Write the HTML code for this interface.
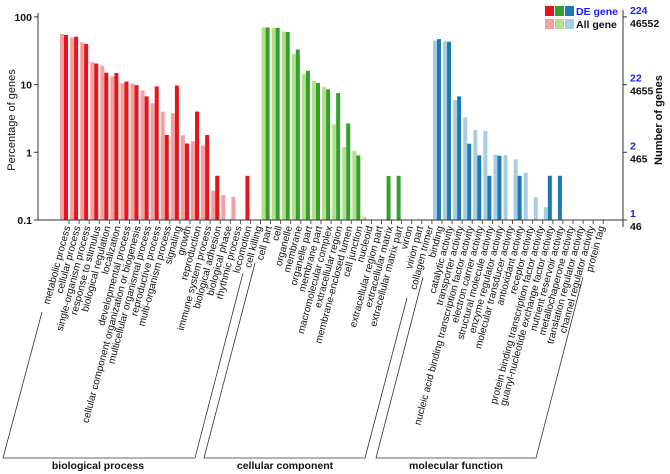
<!DOCTYPE html>
<html><head><meta charset="utf-8"><style>
html,body{margin:0;padding:0;background:#fff;}
svg{display:block;font-family:"Liberation Sans",Arial,sans-serif;}
</style></head><body>
<svg id="chart" width="670" height="474" viewBox="0 0 670 474">
<g id="bars"></g>
<g id="labels"></g>
<g id="axes">
 <line x1="38" y1="13" x2="38" y2="220" stroke="#333" stroke-width="1"/>
 <line x1="38" y1="220" x2="623" y2="220" stroke="#333" stroke-width="1"/>
 <line x1="623" y1="10" x2="623" y2="227" stroke="#333" stroke-width="1"/>
 <text x="15" y="120" transform="rotate(-90 15 120)" text-anchor="middle" font-size="11" fill="#111">Percentage of genes</text>
 <text x="662" y="120" transform="rotate(-90 662 120)" text-anchor="middle" font-size="11" font-weight="bold" fill="#111">Number of genes</text>
</g>
<g id="legend">
 <rect x="545" y="6" width="9" height="10" fill="#e8141c"/>
 <rect x="555" y="6" width="9" height="10" fill="#33a02c"/>
 <rect x="565" y="6" width="9" height="10" fill="#1f78b4"/>
 <rect x="545" y="19" width="9" height="10" fill="#f5a0a0"/>
 <rect x="555" y="19" width="9" height="10" fill="#b2df8a"/>
 <rect x="565" y="19" width="9" height="10" fill="#a6cee3"/>
 <text x="576" y="15" font-size="10.5" font-weight="bold" fill="#1a1aff">DE gene</text>
 <text x="576" y="28" font-size="10.5" font-weight="bold" fill="#111">All gene</text>
</g>
<g id="groups" stroke="#333" stroke-width="0.8" fill="none">
 <polyline points="42,312 3,458 195,458 243,273"/>
 <polyline points="255,263 204,458 365,458 407,298"/>
 <polyline points="423,277 376,458 536,458 583,277"/>
</g>
<text x="98" y="469" text-anchor="middle" font-size="10.5" font-weight="bold" fill="#111">biological process</text>
<text x="285" y="469" text-anchor="middle" font-size="10.5" font-weight="bold" fill="#111">cellular component</text>
<text x="456" y="469" text-anchor="middle" font-size="10.5" font-weight="bold" fill="#111">molecular function</text>
</svg>
<script>
const categories = ["metabolic process","cellular process","single-organism process","response to stimulus","biological regulation","localization","developmental process","cellular component organization or biogenesis","multicellular organismal process","reproductive process","multi-organism process","signaling","growth","reproduction","immune system process","biological adhesion","biological phase","rhythmic process","locomotion","cell killing",
"cell part","cell","organelle","membrane","organelle part","membrane part","macromolecular complex","extracellular region","membrane-enclosed lumen","cell junction","nucleoid","extracellular region part","extracellular matrix","extracellular matrix part","virion","virion part","collagen trimer",
"binding","catalytic activity","transporter activity","nucleic acid binding transcription factor activity","electron carrier activity","structural molecule activity","enzyme regulator activity","molecular transducer activity","antioxidant activity","receptor activity","protein binding transcription factor activity","guanyl-nucleotide exchange factor activity","nutrient reservoir activity","metallochaperone activity","translation regulator activity","channel regulator activity","protein tag"];
const groups = ["BP","BP","BP","BP","BP","BP","BP","BP","BP","BP","BP","BP","BP","BP","BP","BP","BP","BP","BP","BP",
"CC","CC","CC","CC","CC","CC","CC","CC","CC","CC","CC","CC","CC","CC","CC","CC","CC",
"MF","MF","MF","MF","MF","MF","MF","MF","MF","MF","MF","MF","MF","MF","MF","MF","MF"];
const allGene = [56,49.6,42,21.5,19,13.2,10.5,10.4,8.2,5.3,4.0,3.8,1.78,1.45,1.26,0.27,0.234,0.22,0,0,
69.7,69,60.8,28.5,14.3,11.4,9.2,2.6,1.19,1.05,0.112,0,0,0,0,0,0,
44.8,43.5,5.9,3.27,2.13,2.06,0.92,0.91,0.785,0.5,0.216,0.154,0,0,0,0,0];
const deGene = [54,51,40,20.5,15,14.8,11.1,9.8,6.7,9.4,1.8,9.7,1.35,4.0,1.8,0.45,0,0,0.45,0,
69.7,69,60,33,16,10.6,8.5,7.5,2.67,0.9,0,0,0.446,0.45,0,0,0,
47,43,6.7,1.34,0.9,0.45,0.89,0,0.45,0,0,0.45,0.45,0,0,0,0];
const leftTicks = ["0.1","1","10","100"];
const leftTickVals = [0.1,1,10,100];
const rightDE = ["1","2","22","224"];
const rightAll = ["46","465","4655","46552"];

const NS="http://www.w3.org/2000/svg";
const Y0=220, DEC=67.7;
function yScale(v){return Y0-(Math.log10(v)+1)*DEC;}
function xCenter(i){return 64+i*10.08;}
const colors={BP:["#f5a0a0","#e8141c"],CC:["#b2df8a","#33a02c"],MF:["#a6cee3","#1f78b4"]};
function mk(tag,attrs,parent){const e=document.createElementNS(NS,tag);for(const k in attrs)e.setAttribute(k,attrs[k]);parent.appendChild(e);return e;}
const bars=document.getElementById('bars'), labels=document.getElementById('labels'), axes=document.getElementById('axes');
categories.forEach((c,i)=>{
  const cx=xCenter(i), col=colors[groups[i]];
  if(allGene[i]>0.1){
    const y=yScale(allGene[i]);
    const r=mk('rect',{x:cx-4,y:y,width:4,height:Y0-y,fill:col[0]},bars);
    
    
  }
  if(deGene[i]>0.1){
    const y=yScale(deGene[i]);
    const r=mk('rect',{x:cx,y:y,width:4,height:Y0-y,fill:col[1]},bars);
    
    
  }
  const tk=mk('line',{x1:cx+5,y1:220,x2:cx+5,y2:224,stroke:'#333','stroke-width':0.8},axes);
  
  
  const tx=cx+3, ty=226;
  const t=mk('text',{x:tx,y:ty,'text-anchor':'end','font-size':'10',fill:'#111',transform:`rotate(-75 ${tx} ${ty})`,dy:'0.35em'},labels);
  t.textContent=c;
  
  
});
leftTickVals.forEach((v,i)=>{
  const y=yScale(v);
  const l=mk('line',{x1:34,y1:y,x2:38,y2:y,stroke:'#333'},axes);
  
  
  const t=mk('text',{x:32,y:y+4,'text-anchor':'end','font-size':'10.5','font-weight':'bold',fill:'#111'},axes);
  t.textContent=leftTicks[i];
  
  
  const r=mk('line',{x1:623,y1:y,x2:627,y2:y,stroke:'#333'},axes);
  
  
  const a=mk('text',{x:630,y:y-3,'font-size':'10.5','font-weight':'bold',fill:'#1a1aff'},axes);
  a.textContent=rightDE[i];
  
  
  const b=mk('text',{x:630,y:y+10,'font-size':'10.5','font-weight':'bold',fill:'#111'},axes);
  b.textContent=rightAll[i];
  
  
});
</script>
</body></html>
